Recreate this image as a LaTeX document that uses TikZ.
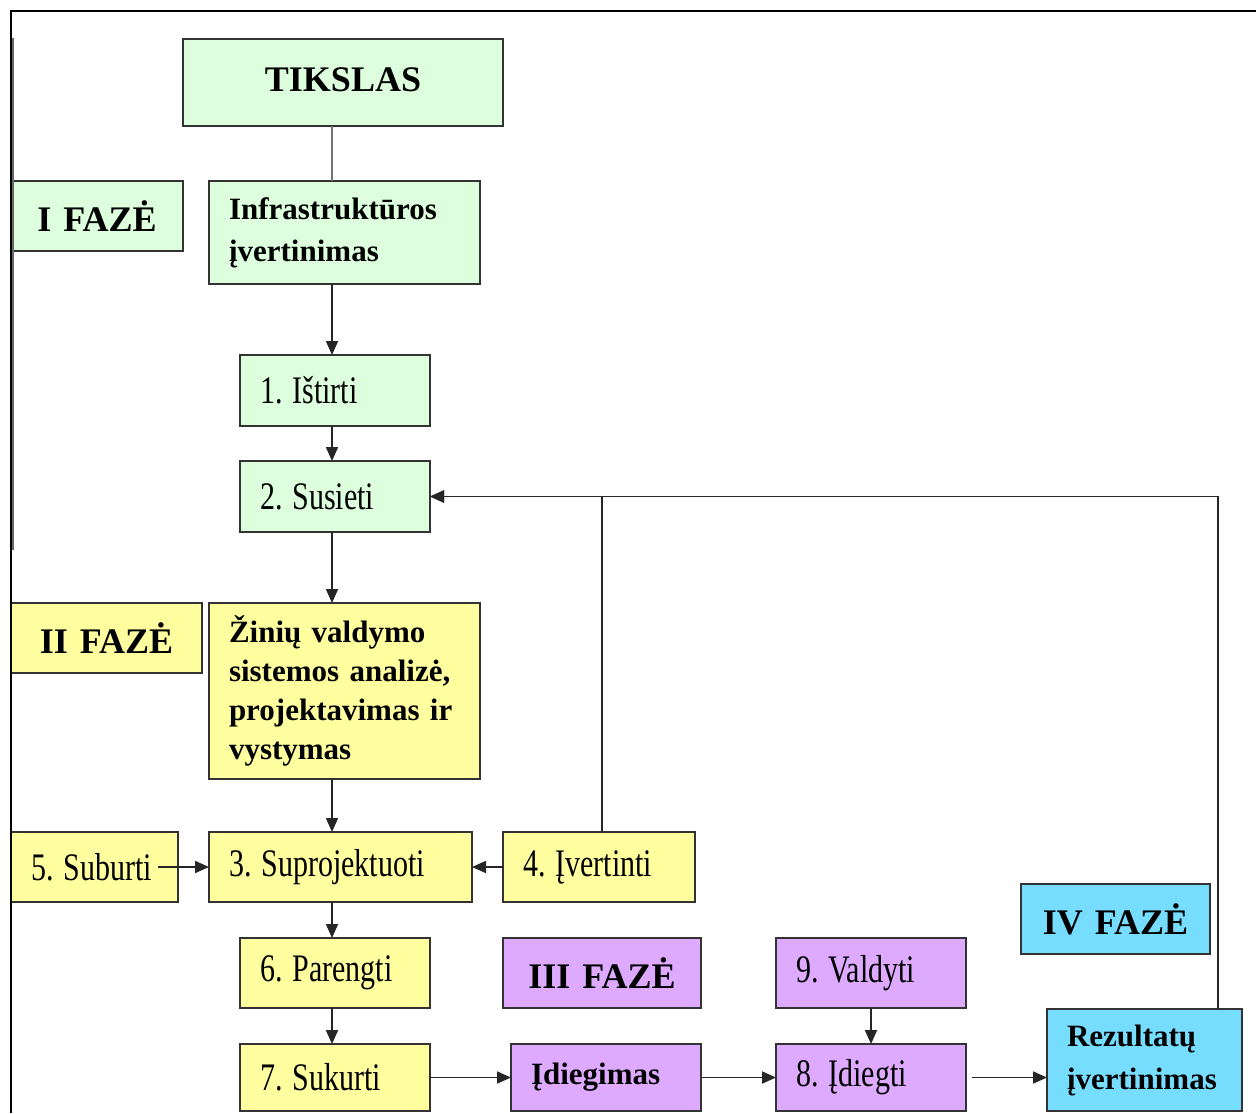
\documentclass[tikz,border=0pt]{standalone}
\usepackage{fontspec}
\usepackage{graphicx}
\setmainfont{Liberation Serif}
\usetikzlibrary{arrows.meta}
\frenchspacing
\definecolor{cgreen}{RGB}{221,255,221}
\definecolor{cyellow}{RGB}{255,255,160}
\definecolor{cpurple}{RGB}{221,170,255}
\definecolor{ccyan}{RGB}{119,221,255}
\newcommand\tallt[1]{\scalebox{1}[1.3]{#1}}
\newcommand\mkbox[7]{%
  \pgfmathsetmacro\mybw{(#5-#3)/2}%
  \pgfmathsetmacro\mybh{(#6-#4)/2}%
  \pgfmathsetmacro\mytw{\mybw-20}%
  \node[#1, minimum width=\mybw pt, minimum height=\mybh pt, text width=\mytw pt] (#2) at (#3,#4) {#7};}
\begin{document}
\begin{tikzpicture}[x=0.5pt,y=-0.5pt,
  boxbase/.style={draw=black!80, line width=0.9pt, anchor=north west, inner xsep=10pt, inner ysep=0pt, outer sep=0pt},
  nbox/.style={boxbase, align=left, font=\fontsize{15}{19}\selectfont},
  bbox/.style={boxbase, align=left, font=\fontsize{15.5}{19.5}\selectfont\bfseries},
  pbox/.style={boxbase, align=center, font=\fontsize{18}{20}\selectfont\bfseries},
  conn/.style={draw=black!85, line width=0.9pt},
  arr/.style={conn, -{Triangle[length=7pt,width=6pt]}}
]
\useasboundingbox (0,0) rectangle (1256,1113);
\fill[white] (0,0) rectangle (1256,1113);
\coordinate (spine) at (332,0);
\coordinate (rezup) at (1218,0);

% phase I (green)
\mkbox{pbox, fill=cgreen}{tik}{183}{39}{503}{126}{\raisebox{3pt}{TIKSLAS}}
\mkbox{pbox, fill=cgreen}{f1}{11}{181}{183}{251}{I FAZĖ}
\mkbox{bbox, fill=cgreen, inner xsep=9.5pt}{inf}{209}{181}{480}{284}{Infrastruktūros\\[1.5pt]įvertinimas}
\mkbox{nbox, fill=cgreen}{ist}{240}{355}{430}{426}{\tallt{1. Ištirti}}
\mkbox{nbox, fill=cgreen}{sus}{240}{461}{430}{532}{\tallt{2. Susieti}}

% phase II (yellow)
\mkbox{pbox, fill=cyellow}{f2}{11}{603}{202}{673}{II FAZĖ}
\mkbox{bbox, fill=cyellow, inner xsep=9.5pt}{zin}{209}{603}{480}{779}{Žinių valdymo\\sistemos analizė,\\projektavimas ir\\vystymas}
\mkbox{nbox, fill=cyellow}{sub}{11}{832}{178}{902}{\tallt{5. Suburti}}
\mkbox{nbox, fill=cyellow}{sup}{209}{832}{472}{902}{\tallt{3. Suprojektuoti}}
\mkbox{nbox, fill=cyellow}{ive}{503}{832}{695}{902}{\tallt{4. Įvertinti}}
\mkbox{nbox, fill=cyellow}{par}{240}{938}{430}{1008}{\tallt{6. Parengti}}
\mkbox{nbox, fill=cyellow}{suk}{240}{1044}{430}{1111}{\tallt{7. Sukurti}}

% phase III (purple)
\mkbox{pbox, fill=cpurple}{f3}{503}{938}{701}{1008}{III FAZĖ}
\mkbox{bbox, fill=cpurple}{idg}{511}{1044}{701}{1111}{Įdiegimas}
\mkbox{nbox, fill=cpurple}{val}{776}{938}{966}{1008}{\tallt{9. Valdyti}}
\mkbox{nbox, fill=cpurple}{idi}{776}{1044}{966}{1111}{\tallt{8. Įdiegti}}

% phase IV (cyan)
\mkbox{pbox, fill=ccyan}{f4}{1021}{884}{1210}{954}{IV FAZĖ}
\mkbox{bbox, fill=ccyan, inner xsep=9.5pt}{rez}{1047}{1009}{1242}{1111}{Rezultatų\\[2pt]įvertinimas}

% connectors
\draw[conn, draw=black!55] (tik.south -| spine) -- (inf.north -| spine);
\draw[arr] (inf.south -| spine) -- (ist.north -| spine);
\draw[arr] (ist.south -| spine) -- (sus.north -| spine);
\draw[arr] (sus.south -| spine) -- (zin.north -| spine);
\draw[arr] (zin.south -| spine) -- (sup.north -| spine);
\draw[arr] (sup.south -| spine) -- (par.north -| spine);
\draw[arr] (par.south -| spine) -- (suk.north -| spine);
\draw[arr] ([xshift=-10pt]sub.east) -- (sup.west);
\draw[arr] (ive.west) -- (sup.east);
\draw[arr] ([xshift=1.5pt]ive.north) |- (sus.east);
\draw[arr] (rez.north -| rezup) |- (sus.east);
\draw[arr] (suk.east |- idg.west) -- (idg.west);
\draw[arr] (idg.east) -- (idi.west);
\draw[arr] (val.south) -- (idi.north);
\draw[arr] ([xshift=3pt]idi.east) -- (rez.west |- idi.east);

% frame
\draw[black, line width=1.1pt] (1256,11) -- (11,11) -- (11,1113);
\draw[black!60, line width=0.9pt] (13,38) -- (13,550);
\end{tikzpicture}
\end{document}
